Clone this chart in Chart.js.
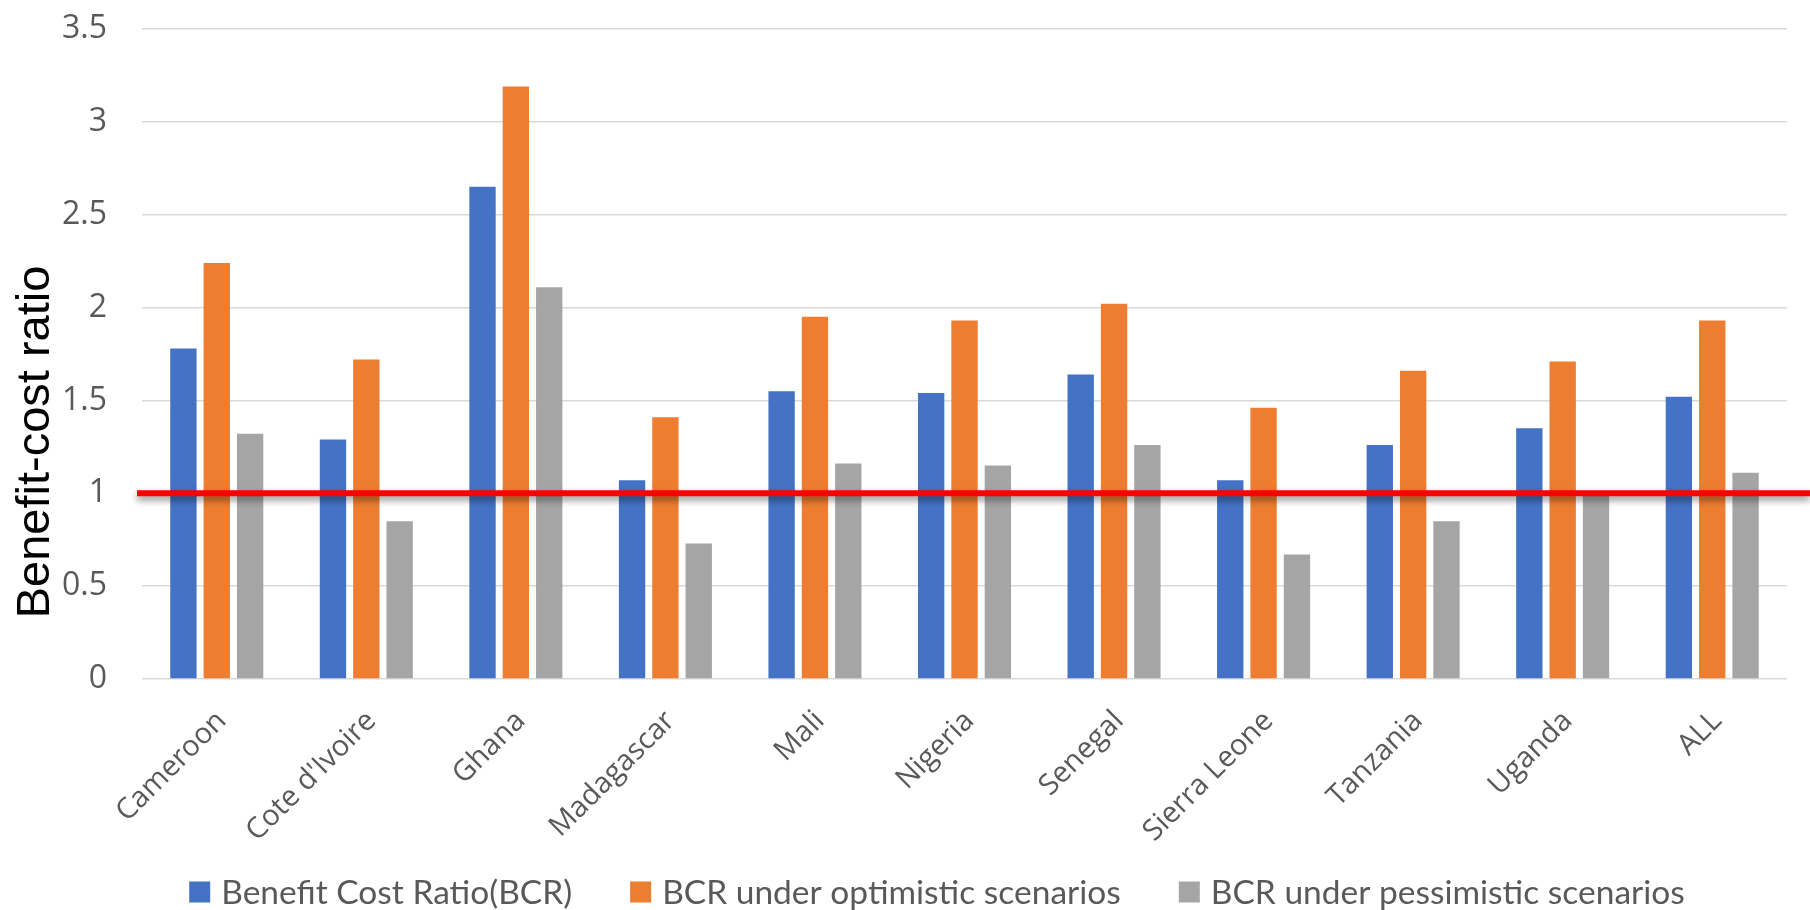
<!DOCTYPE html>
<html>
<head>
<meta charset="utf-8">
<title>Benefit-cost ratio by country</title>
<script src="https://cdn.jsdelivr.net/npm/chart.js@4.4.1/dist/chart.umd.min.js"></script>
<style>
  html, body { margin: 0; padding: 0; background: #ffffff; }
  #c { display: block; }
</style>
</head>
<body>
<canvas id="c" width="1810" height="910"></canvas>
<script>
// Categories and series
const countries = ['Cameroon', "Cote d'Ivoire", 'Ghana', 'Madagascar', 'Mali', 'Nigeria',
                   'Senegal', 'Sierra Leone', 'Tanzania', 'Uganda', 'ALL'];
const bcr            = [1.78, 1.29, 2.65, 1.07, 1.55, 1.54, 1.64, 1.07, 1.26, 1.35, 1.52];
const bcrOptimistic  = [2.24, 1.72, 3.19, 1.41, 1.95, 1.93, 2.02, 1.46, 1.66, 1.71, 1.93];
const bcrPessimistic = [1.32, 0.85, 2.11, 0.73, 1.16, 1.15, 1.26, 0.67, 0.85, 0.99, 1.11];
const seriesNames = ['Benefit Cost Ratio(BCR)', 'BCR under optimistic scenarios', 'BCR under pessimistic scenarios'];
const seriesColors = ['#4472C4', '#ED7D31', '#A5A5A5'];
const yTicks = [0, 0.5, 1, 1.5, 2, 2.5, 3, 3.5];
const yTickLabels = ['0', '0.5', '1', '1.5', '2', '2.5', '3', '3.5'];
const breakEven = 1;
const yTitle = 'Benefit-cost ratio';

const TEXT_GREY = '#595959';

// Red break-even line at BCR = 1, with a soft drop shadow
const breakEvenLine = {
  id: 'breakEvenLine',
  afterDatasetsDraw(chart) {
    const { ctx, chartArea, scales } = chart;
    const y = scales.y.getPixelForValue(breakEven);
    ctx.save();
    ctx.shadowColor = 'rgba(0,0,0,0.45)';
    ctx.shadowBlur = 7;
    ctx.shadowOffsetY = 4;
    ctx.strokeStyle = '#FF0000';
    ctx.lineWidth = 6;
    ctx.beginPath();
    ctx.moveTo(chartArea.left - 5, y);
    ctx.lineTo(chart.width, y);
    ctx.stroke();
    ctx.restore();
  }
};

// Vertical axis title
const axisTitle = {
  id: 'axisTitle',
  afterDraw(chart) {
    const { ctx } = chart;
    ctx.save();
    ctx.translate(36, 442);
    ctx.rotate(-Math.PI / 2);
    ctx.font = '47px "Liberation Sans", Arial, sans-serif';
    ctx.fillStyle = '#000000';
    ctx.textAlign = 'center';
    ctx.textBaseline = 'middle';
    ctx.fillText(yTitle, 0, 0);
    ctx.restore();
  }
};

// Legend row under the axis labels
const bottomLegend = {
  id: 'bottomLegend',
  afterDraw(chart) {
    const { ctx } = chart;
    const box = 21, gap = 11, spacing = 58, cy = 892, cx = 937;
    ctx.save();
    ctx.font = '33.5px Lato, "Open Sans", sans-serif';
    ctx.textBaseline = 'middle';
    ctx.textAlign = 'left';
    const items = chart.data.datasets.map(ds => ({
      text: ds.label, color: ds.backgroundColor, w: ctx.measureText(ds.label).width
    }));
    const total = items.reduce((s, it) => s + box + gap + it.w, 0) + spacing * (items.length - 1);
    let x = cx - total / 2;
    items.forEach(it => {
      ctx.fillStyle = it.color;
      ctx.fillRect(x, cy - box / 2, box, box);
      ctx.fillStyle = TEXT_GREY;
      ctx.fillText(it.text, x + box + gap, cy + 1);
      x += box + gap + it.w + spacing;
    });
    ctx.restore();
  }
};

const seriesData = [bcr, bcrOptimistic, bcrPessimistic];

new Chart(document.getElementById('c'), {
  type: 'bar',
  data: {
    labels: countries,
    datasets: seriesData.map((values, i) => ({
      label: seriesNames[i],
      data: values,
      backgroundColor: seriesColors[i],
      borderWidth: 0,
      categoryPercentage: 0.669,
      barPercentage: 0.79
    }))
  },
  options: {
    responsive: false,
    animation: false,
    devicePixelRatio: 1,
    layout: { padding: { top: 29, right: 23, bottom: 63, left: 0 } },
    plugins: {
      legend: { display: false },
      tooltip: { enabled: false }
    },
    scales: {
      x: {
        grid: { display: false, drawTicks: false },
        border: { display: false },
        ticks: {
          color: TEXT_GREY,
          font: { family: '"Open Sans", sans-serif', size: 29 },
          minRotation: 45,
          maxRotation: 45,
          autoSkip: false,
          padding: 25,
          labelOffset: 5
        },
        afterFit(scale) {
          scale.height = 168;
          scale.paddingLeft = 0;
          scale.paddingRight = 0;
        }
      },
      y: {
        min: 0,
        max: 3.5,
        afterBuildTicks(scale) {
          scale.ticks = yTicks.map(v => ({ value: v }));
        },
        grid: { color: '#D9D9D9', lineWidth: 1.5, drawTicks: false },
        border: { display: false },
        ticks: {
          color: TEXT_GREY,
          font: { family: '"Open Sans", sans-serif', size: 32 },
          padding: 35,
          callback: (value, index) => yTickLabels[index]
        },
        afterFit(scale) {
          scale.width = 142;
          scale.paddingTop = 0;
          scale.paddingBottom = 0;
        }
      }
    }
  },
  plugins: [breakEvenLine, axisTitle, bottomLegend]
});
</script>
</body>
</html>
